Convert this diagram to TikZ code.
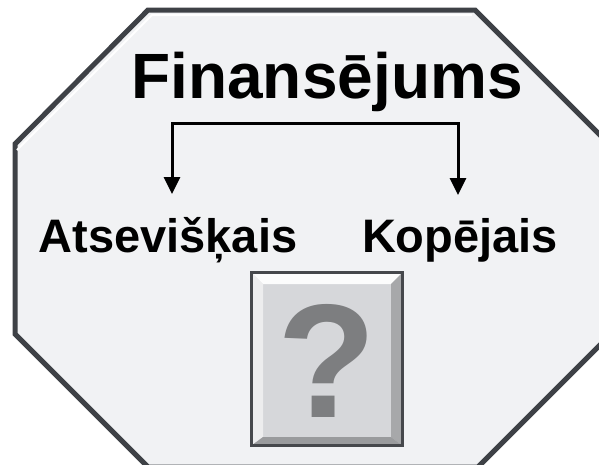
\documentclass[tikz,border=0pt]{standalone}
\usepackage{fontspec}
\setmainfont{Liberation Sans}
\usetikzlibrary{calc}
\usetikzlibrary{arrows.meta}
\definecolor{octfill}{RGB}{241,242,244}
\definecolor{octline}{RGB}{62,65,70}
\definecolor{boxfill}{RGB}{214,215,218}
\definecolor{boxline}{RGB}{70,72,76}
\definecolor{qgray}{RGB}{125,126,128}
\newcommand{\fsz}[1]{\fontsize{#1}{#1}\selectfont}

\begin{document}
\begin{tikzpicture}[x=1pt,y=-1pt,
    conn/.style={line width=3pt, line join=miter, -{Triangle[length=17pt,width=16pt]}},
    word/.style={anchor=base, font=\bfseries\fsz{47}}]
    \useasboundingbox (0,0) rectangle (599,464);
    % octagon
    \filldraw[fill=octfill, draw=octline, line width=5pt, line join=miter]
      (148,10) -- (475,10) -- (604,139) -- (604,341) -- (478,467)
      -- (148,467) -- (15,334) -- (15,144) -- cycle;
    \draw[white, line width=2pt] (17,150) -- (152,15) -- (472,15);
    \node[anchor=base, font=\bfseries\fsz{64}] (F) at (327,98) {Finansējums};
    \node[word] (A) at (168,252) {Atsevišķais};
    \node[word] (K) at (460,252) {Kopējais};
    \coordinate (S) at (312,123);
    \coordinate (AL) at (172,194);
    \coordinate (KL) at (458,195);
    \draw[conn] (S) -| (AL);
    \draw[conn] (S) -| (KL);
    % question box
    \node[fill=boxfill, outer sep=0pt, inner sep=0pt,
      minimum width=151pt, minimum height=173pt] (Q) at (327,359) {};
    \fill[white!92!boxfill] (Q.north west) -- (Q.north east) -- (391,284) -- (263,284) -- cycle;
    \fill[white!55!boxfill] (Q.north west) -- (263,284) -- (263,437) -- (Q.south west) -- cycle;
    \fill[black!22!boxfill] (Q.north east) -- (391,284) -- (391,437) -- (Q.south east) -- cycle;
    \fill[black!28!boxfill] (Q.south west) -- (263,437) -- (391,437) -- (Q.south east) -- cycle;
    \draw[boxline, line width=3pt] (Q.north west) rectangle (Q.south east);
    \node[anchor=base, text=qgray, font=\bfseries\fsz{162}] (qm) at (327,417) {?};
\end{tikzpicture}
\end{document}
